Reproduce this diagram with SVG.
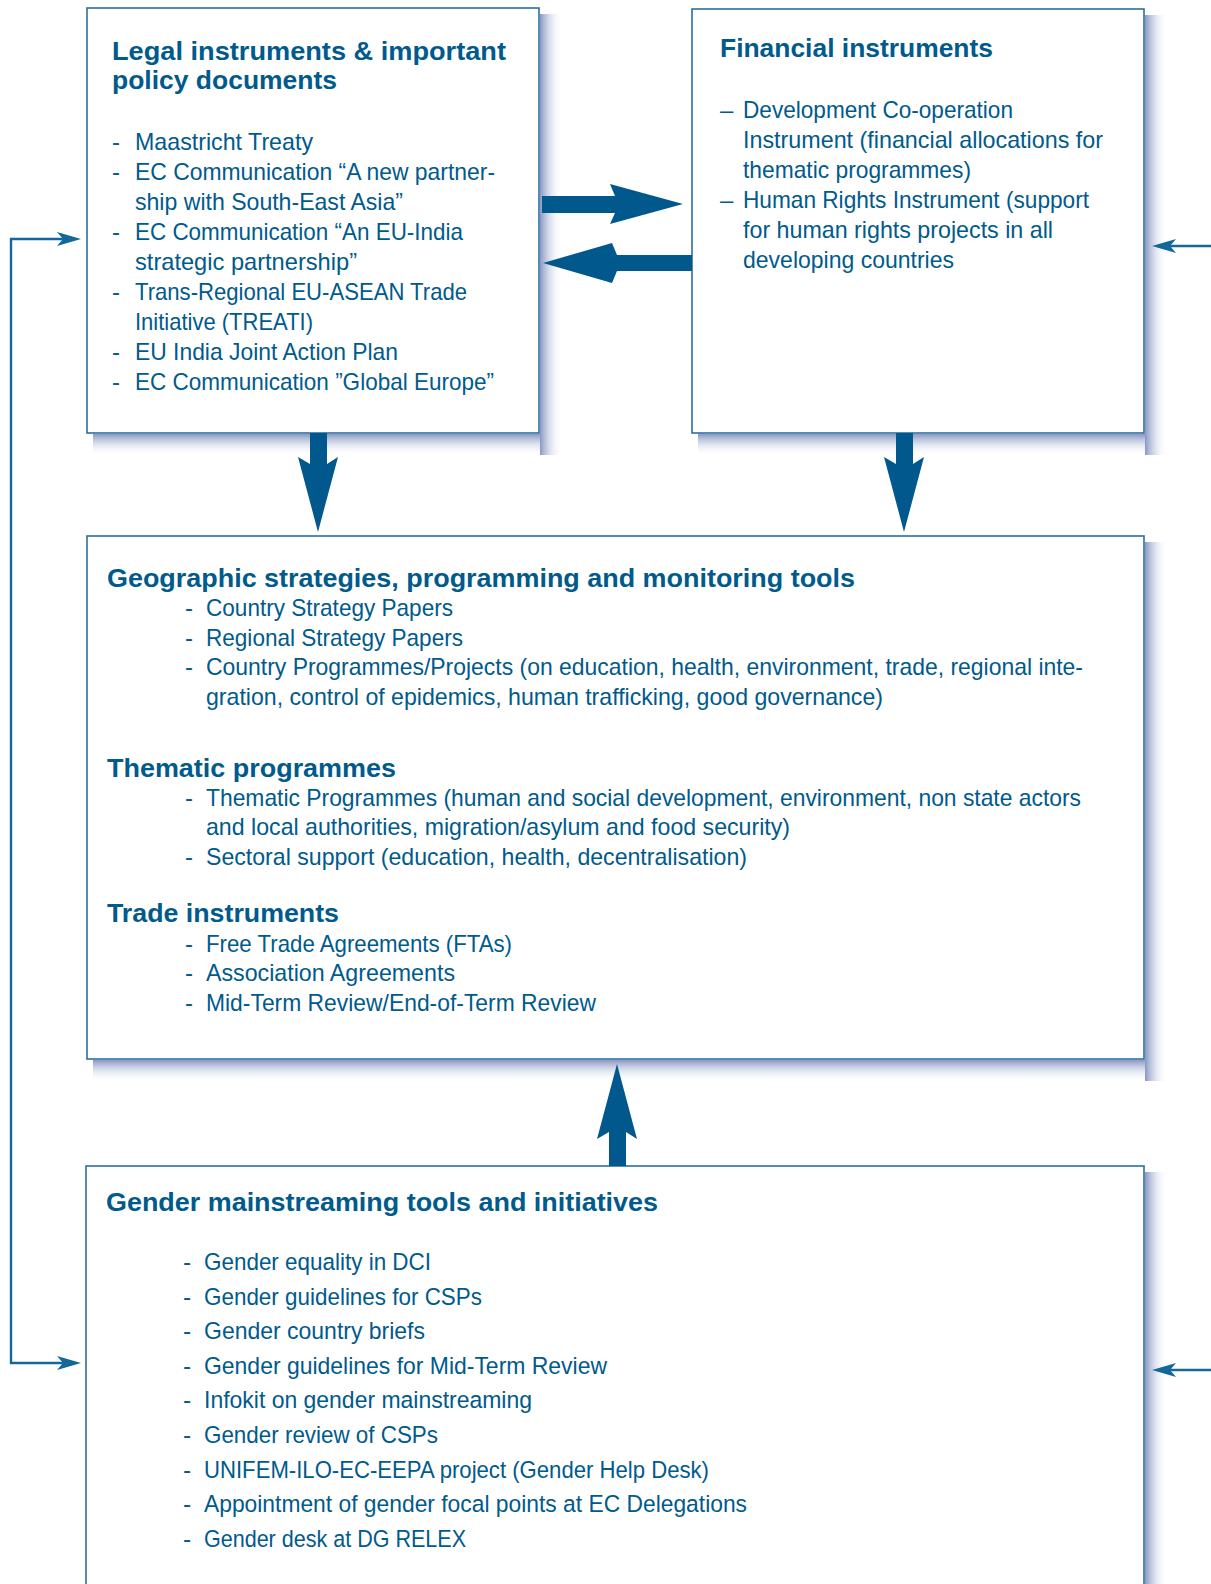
<svg xmlns="http://www.w3.org/2000/svg" width="1211" height="1584" viewBox="0 0 1211 1584">
  <style>
    .box { fill: #ffffff; stroke: #2b6f9f; stroke-width: 1.6; }
    .big { fill: #00588c; }
    .thin { fill: none; stroke: #14679a; stroke-width: 2.4; }
    text { fill: #005a8c; }
    .h { font-family: "Liberation Sans", Arial, sans-serif; font-weight: bold; font-size: 25.5px; }
    .t { font-family: "Liberation Sans Narrow", "Liberation Sans", Arial, sans-serif; font-size: 24px; }
    .g { font-family: "Liberation Sans Narrow", "Liberation Sans", Arial, sans-serif; font-size: 24.5px; }
  </style>
  <defs>
    <linearGradient id="shR" x1="0" y1="0" x2="1" y2="0">
      <stop offset="0" stop-color="#7b8cbc" stop-opacity="0.9"/>
      <stop offset="1" stop-color="#ffffff" stop-opacity="0"/>
    </linearGradient>
    <linearGradient id="shB" x1="0" y1="0" x2="0" y2="1">
      <stop offset="0" stop-color="#7b8cbc" stop-opacity="0.9"/>
      <stop offset="1" stop-color="#ffffff" stop-opacity="0"/>
    </linearGradient>
    <marker id="tip" viewBox="-19 -8 26 16" refX="0" refY="0" markerWidth="26" markerHeight="16" markerUnits="userSpaceOnUse" orient="auto-start-reverse">
      <path d="M6,0 L-18,-7 L-12,0 L-18,7 Z" fill="#14679a"/>
    </marker>
  </defs>

  <rect width="1211" height="1584" fill="#ffffff"/>

  <!-- drop shadows -->
  <g id="shadows">
    <rect x="540" y="14" width="22" height="441" fill="url(#shR)"/>
    <rect x="93" y="434" width="447" height="22" fill="url(#shB)"/>
    <rect x="1145" y="15" width="22" height="440" fill="url(#shR)"/>
    <rect x="698" y="434" width="447" height="22" fill="url(#shB)"/>
    <rect x="1145" y="542" width="22" height="539" fill="url(#shR)"/>
    <rect x="93" y="1060" width="1052" height="22" fill="url(#shB)"/>
    <rect x="1145" y="1172" width="22" height="420" fill="url(#shR)"/>
  </g>

  <!-- Legal instruments -->
  <g id="legal">
    <rect class="box" x="87" y="8" width="452" height="425"/>
    <text class="h" x="112" y="60" textLength="394" lengthAdjust="spacingAndGlyphs">Legal instruments &amp; important</text>
    <text class="h" x="112" y="89" textLength="225" lengthAdjust="spacingAndGlyphs">policy documents</text>
    <g class="t">
      <text x="112" y="150">-</text><text x="135" y="150" textLength="178" lengthAdjust="spacingAndGlyphs">Maastricht Treaty</text>
      <text x="112" y="180">-</text><text x="135" y="180" textLength="360" lengthAdjust="spacingAndGlyphs">EC Communication “A new partner-</text>
      <text x="135" y="210" textLength="268" lengthAdjust="spacingAndGlyphs">ship with South-East Asia”</text>
      <text x="112" y="240">-</text><text x="135" y="240" textLength="328" lengthAdjust="spacingAndGlyphs">EC Communication “An EU-India</text>
      <text x="135" y="270" textLength="222" lengthAdjust="spacingAndGlyphs">strategic partnership”</text>
      <text x="112" y="300">-</text><text x="135" y="300" textLength="332" lengthAdjust="spacingAndGlyphs">Trans-Regional EU-ASEAN Trade</text>
      <text x="135" y="330" textLength="178" lengthAdjust="spacingAndGlyphs">Initiative (TREATI)</text>
      <text x="112" y="360">-</text><text x="135" y="360" textLength="263" lengthAdjust="spacingAndGlyphs">EU India Joint Action Plan</text>
      <text x="112" y="390">-</text><text x="135" y="390" textLength="359" lengthAdjust="spacingAndGlyphs">EC Communication ”Global Europe”</text>
    </g>
  </g>

  <!-- Financial instruments -->
  <g id="financial">
    <rect class="box" x="692" y="9" width="452" height="424"/>
    <text class="h" x="720" y="57" textLength="273" lengthAdjust="spacingAndGlyphs">Financial instruments</text>
    <g class="t">
      <text x="720" y="118">–</text><text x="743" y="118" textLength="270" lengthAdjust="spacingAndGlyphs">Development Co-operation</text>
      <text x="743" y="148" textLength="360" lengthAdjust="spacingAndGlyphs">Instrument (financial allocations for</text>
      <text x="743" y="178" textLength="228" lengthAdjust="spacingAndGlyphs">thematic programmes)</text>
      <text x="720" y="208">–</text><text x="743" y="208" textLength="346" lengthAdjust="spacingAndGlyphs">Human Rights Instrument (support</text>
      <text x="743" y="238" textLength="310" lengthAdjust="spacingAndGlyphs">for human rights projects in all</text>
      <text x="743" y="268" textLength="211" lengthAdjust="spacingAndGlyphs">developing countries</text>
    </g>
  </g>

  <!-- Geographic / thematic / trade -->
  <g id="programming">
    <rect class="box" x="87" y="536" width="1057" height="523"/>
    <text class="h" x="107" y="587" textLength="748" lengthAdjust="spacingAndGlyphs">Geographic strategies, programming and monitoring tools</text>
    <g class="t">
      <text x="185" y="616">-</text><text x="206" y="616" textLength="247" lengthAdjust="spacingAndGlyphs">Country Strategy Papers</text>
      <text x="185" y="646">-</text><text x="206" y="646" textLength="257" lengthAdjust="spacingAndGlyphs">Regional Strategy Papers</text>
      <text x="185" y="675">-</text><text x="206" y="675" textLength="877" lengthAdjust="spacingAndGlyphs">Country Programmes/Projects (on education, health, environment, trade, regional inte-</text>
      <text x="206" y="705" textLength="677" lengthAdjust="spacingAndGlyphs">gration, control of epidemics, human trafficking, good governance)</text>
    </g>
    <text class="h" x="107" y="777" textLength="289" lengthAdjust="spacingAndGlyphs">Thematic programmes</text>
    <g class="t">
      <text x="185" y="806">-</text><text x="206" y="806" textLength="875" lengthAdjust="spacingAndGlyphs">Thematic Programmes (human and social development, environment, non state actors</text>
      <text x="206" y="835" textLength="584" lengthAdjust="spacingAndGlyphs">and local authorities, migration/asylum and food security)</text>
      <text x="185" y="865">-</text><text x="206" y="865" textLength="541" lengthAdjust="spacingAndGlyphs">Sectoral support (education, health, decentralisation)</text>
    </g>
    <text class="h" x="107" y="922" textLength="232" lengthAdjust="spacingAndGlyphs">Trade instruments</text>
    <g class="t">
      <text x="185" y="952">-</text><text x="206" y="952" textLength="306" lengthAdjust="spacingAndGlyphs">Free Trade Agreements (FTAs)</text>
      <text x="185" y="981">-</text><text x="206" y="981" textLength="249" lengthAdjust="spacingAndGlyphs">Association Agreements</text>
      <text x="185" y="1011">-</text><text x="206" y="1011" textLength="390" lengthAdjust="spacingAndGlyphs">Mid-Term Review/End-of-Term Review</text>
    </g>
  </g>

  <!-- Gender mainstreaming -->
  <g id="gender">
    <rect class="box" x="86" y="1166" width="1058" height="450"/>
    <text class="h" x="106" y="1211" textLength="552" lengthAdjust="spacingAndGlyphs">Gender mainstreaming tools and initiatives</text>
    <g class="g">
      <text x="183" y="1270">-</text><text x="204" y="1270" textLength="227" lengthAdjust="spacingAndGlyphs">Gender equality in DCI</text>
      <text x="183" y="1305">-</text><text x="204" y="1305" textLength="278" lengthAdjust="spacingAndGlyphs">Gender guidelines for CSPs</text>
      <text x="183" y="1339">-</text><text x="204" y="1339" textLength="221" lengthAdjust="spacingAndGlyphs">Gender country briefs</text>
      <text x="183" y="1374">-</text><text x="204" y="1374" textLength="403" lengthAdjust="spacingAndGlyphs">Gender guidelines for Mid-Term Review</text>
      <text x="183" y="1408">-</text><text x="204" y="1408" textLength="328" lengthAdjust="spacingAndGlyphs">Infokit on gender mainstreaming</text>
      <text x="183" y="1443">-</text><text x="204" y="1443" textLength="234" lengthAdjust="spacingAndGlyphs">Gender review of CSPs</text>
      <text x="183" y="1478">-</text><text x="204" y="1478" textLength="505" lengthAdjust="spacingAndGlyphs">UNIFEM-ILO-EC-EEPA project (Gender Help Desk)</text>
      <text x="183" y="1512">-</text><text x="204" y="1512" textLength="543" lengthAdjust="spacingAndGlyphs">Appointment of gender focal points at EC Delegations</text>
      <text x="183" y="1547">-</text><text x="204" y="1547" textLength="262" lengthAdjust="spacingAndGlyphs">Gender desk at DG RELEX</text>
    </g>
  </g>

  <!-- connectors -->
  <g id="connectors">
    <polygon class="big" points="542,196 615,196 610,184 683,204 610,224 615,213 542,213"/>
    <polygon class="big" points="692,255 617,255 612,243 543,263 612,283 617,271 692,271"/>
    <polygon class="big" points="310,433 327,433 327,464 338,457 318,532 298,457 310,464"/>
    <polygon class="big" points="896,433 913,433 913,464 924,457 904,532 884,457 896,464"/>
    <polygon class="big" points="609,1166 609,1132 597,1139 617,1064 637,1139 626,1132 626,1166"/>
    <path class="thin" d="M75,239 H11 V1363 H75" marker-start="url(#tip)" marker-end="url(#tip)"/>
    <path class="thin" d="M1211,246 H1158" marker-end="url(#tip)"/>
    <path class="thin" d="M1211,1370 H1158" marker-end="url(#tip)"/>
  </g>
</svg>
